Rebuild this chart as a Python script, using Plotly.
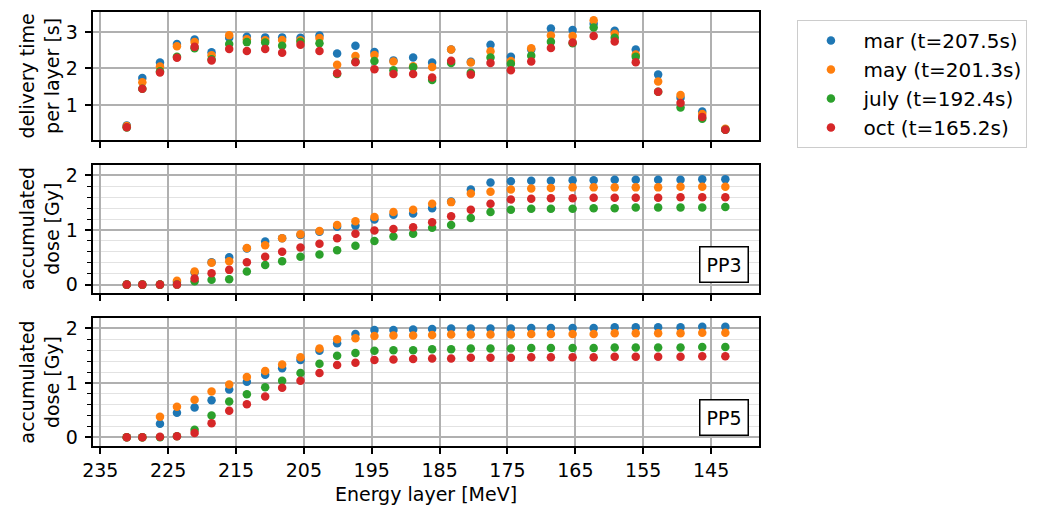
import plotly.graph_objects as go

energy = [231.1, 228.8, 226.2, 223.7, 221.1, 218.6, 216.0, 213.4, 210.7, 208.2, 205.5,
          202.7, 200.1, 197.4, 194.6, 191.8, 188.9, 186.1, 183.3, 180.4, 177.5, 174.5,
          171.5, 168.6, 165.4, 162.3, 159.2, 156.1, 152.8, 149.5, 146.3, 142.9]

series_names = ["mar (t=207.5s)", "may (t=201.3s)", "july (t=192.4s)", "oct (t=165.2s)"]
series_colors = ["#1f77b4", "#ff7f0e", "#2ca02c", "#d62728"]

time_mar = [0.44, 1.74, 2.16, 2.67, 2.79, 2.44, 2.84, 2.87, 2.85, 2.85, 2.84, 2.90, 2.41, 2.62, 2.45, 2.22,
            2.30, 2.16, 2.52, 2.18, 2.65, 2.32, 2.52, 3.09, 3.05, 3.22, 3.03, 2.52, 1.83, 1.20, 0.82, 0.33]
time_may = [0.42, 1.62, 2.05, 2.61, 2.72, 2.36, 2.91, 2.80, 2.77, 2.78, 2.77, 2.83, 2.10, 2.34, 2.37, 2.19,
            2.06, 2.04, 2.52, 2.16, 2.47, 2.20, 2.55, 2.90, 2.89, 3.32, 2.95, 2.38, 1.64, 1.27, 0.75, 0.35]
time_july = [0.38, 1.44, 1.92, 2.32, 2.55, 2.25, 2.67, 2.72, 2.71, 2.62, 2.73, 2.69, 1.85, 2.18, 2.20, 1.95,
             2.03, 1.68, 2.15, 1.88, 2.30, 2.13, 2.35, 2.73, 2.69, 3.12, 2.84, 2.32, 1.36, 0.93, 0.62, 0.32]
time_oct = [0.39, 1.44, 1.89, 2.29, 2.59, 2.22, 2.53, 2.48, 2.53, 2.43, 2.65, 2.48, 1.87, 2.17, 1.98, 1.85,
            1.85, 1.75, 2.21, 1.83, 2.15, 1.95, 2.19, 2.56, 2.71, 2.89, 2.74, 2.17, 1.36, 1.05, 0.67, 0.32]

pp3_mar = [0, 0, 0, 0.05, 0.22, 0.41, 0.50, 0.66, 0.79, 0.85, 0.91, 0.97, 1.06, 1.08, 1.19, 1.28,
           1.30, 1.40, 1.52, 1.74, 1.87, 1.89, 1.90, 1.90, 1.91, 1.91, 1.92, 1.92, 1.92, 1.92, 1.93, 1.93]
pp3_may = [0, 0, 0, 0.07, 0.24, 0.40, 0.43, 0.67, 0.72, 0.85, 0.92, 0.98, 1.09, 1.16, 1.24, 1.33,
           1.37, 1.48, 1.51, 1.67, 1.70, 1.74, 1.76, 1.77, 1.78, 1.78, 1.78, 1.78, 1.78, 1.79, 1.79, 1.79]
pp3_july = [0, 0, 0, 0, 0.06, 0.09, 0.10, 0.24, 0.36, 0.43, 0.51, 0.55, 0.63, 0.71, 0.80, 0.88,
            0.93, 1.04, 1.09, 1.22, 1.33, 1.37, 1.39, 1.39, 1.39, 1.40, 1.40, 1.41, 1.41, 1.41, 1.41, 1.42]
pp3_oct = [0, 0, 0, 0, 0.11, 0.21, 0.27, 0.41, 0.51, 0.60, 0.68, 0.75, 0.85, 0.93, 0.99, 1.02,
           1.05, 1.14, 1.25, 1.37, 1.48, 1.56, 1.57, 1.58, 1.58, 1.59, 1.59, 1.59, 1.59, 1.60, 1.60, 1.60]

pp5_mar = [0, 0, 0.25, 0.45, 0.55, 0.68, 0.88, 1.02, 1.15, 1.27, 1.42, 1.59, 1.73, 1.90, 1.97, 1.97,
           1.98, 1.99, 2.00, 2.00, 2.00, 2.00, 2.01, 2.01, 2.01, 2.01, 2.02, 2.02, 2.02, 2.02, 2.03, 2.03]
pp5_may = [0, 0, 0.38, 0.56, 0.69, 0.84, 0.97, 1.11, 1.22, 1.34, 1.47, 1.63, 1.80, 1.82, 1.86, 1.87,
           1.87, 1.88, 1.89, 1.89, 1.89, 1.89, 1.90, 1.90, 1.90, 1.90, 1.91, 1.91, 1.91, 1.91, 1.92, 1.92]
pp5_july = [0, 0, 0, 0.02, 0.14, 0.40, 0.66, 0.79, 0.92, 1.04, 1.18, 1.35, 1.50, 1.55, 1.59, 1.60,
            1.60, 1.62, 1.62, 1.63, 1.63, 1.63, 1.64, 1.64, 1.64, 1.64, 1.65, 1.65, 1.65, 1.65, 1.66, 1.66]
pp5_oct = [0, 0, 0.01, 0.02, 0.08, 0.26, 0.49, 0.61, 0.75, 0.91, 1.04, 1.18, 1.33, 1.37, 1.42, 1.43,
           1.44, 1.45, 1.45, 1.46, 1.46, 1.46, 1.47, 1.47, 1.47, 1.47, 1.48, 1.48, 1.48, 1.48, 1.49, 1.49]

x_ticks = [235, 225, 215, 205, 195, 185, 175, 165, 155, 145]
panel_labels = ["PP3", "PP5"]

time_series = [time_mar, time_may, time_july, time_oct]
pp3_series = [pp3_mar, pp3_may, pp3_july, pp3_oct]
pp5_series = [pp5_mar, pp5_may, pp5_july, pp5_oct]

FONT = "DejaVu Sans"
fig = go.Figure()

panels = [("x", "y", time_series, True), ("x2", "y2", pp3_series, False), ("x3", "y3", pp5_series, False)]
for xa, ya, data, show in panels:
    for name, color, vals in zip(series_names, series_colors, data):
        fig.add_trace(go.Scatter(
            x=energy, y=vals, mode="markers", name=name, xaxis=xa, yaxis=ya,
            marker=dict(color=color, size=8.5, line=dict(width=0)),
            showlegend=show, legendgroup=name,
        ))

W, H = 1037, 512
left, right, top, bottom = 92.7, 763.3, 10.0, 445.7
ph = bottom - top


def dom(y0, y1):
    return [(bottom - y1) / ph, (bottom - y0) / ph]


xcommon = dict(
    range=[236.07, 137.94], autorange=False, tickmode="array", tickvals=x_ticks,
    showgrid=True, gridcolor="#b0b0b0", gridwidth=1.5,
    showline=True, mirror=True, linecolor="black", linewidth=1.5,
    ticks="outside", ticklen=6.6, tickwidth=1.5, tickcolor="black",
    tickfont=dict(family=FONT, size=19, color="black"), zeroline=False,
    domain=[0, 1],
)
ycommon = dict(
    showgrid=True, gridcolor="#b0b0b0", gridwidth=1.5,
    showline=True, mirror=True, linecolor="black", linewidth=1.5,
    ticks="outside", ticklen=6.6, tickwidth=1.5, tickcolor="black",
    tickfont=dict(family=FONT, size=19, color="black"), zeroline=False,
    ticklabelstandoff=3,
)
minor = dict(dtick=0.2, showgrid=True, gridcolor="#e2e2e2", gridwidth=1.3,
             ticks="outside", ticklen=3.8, tickwidth=1.1, tickcolor="black")

ytitle_font = dict(family=FONT, size=19)

fig.update_layout(
    width=W, height=H,
    margin=dict(l=left, r=W - right, t=top, b=H - bottom),
    paper_bgcolor="white", plot_bgcolor="white",
    font=dict(family=FONT, size=19, color="black"),
    xaxis=dict(**xcommon, anchor="y", showticklabels=False),
    xaxis2=dict(**xcommon, anchor="y2", showticklabels=False, matches="x"),
    xaxis3=dict(**xcommon, anchor="y3", showticklabels=True, matches="x",
                title=dict(text="Energy layer [MeV]", font=dict(family=FONT, size=19), standoff=8)),
    yaxis=dict(**ycommon, domain=dom(10.0, 138.3), range=[0.045, 3.545], tickvals=[1, 2, 3],
               title=dict(text="delivery time<br>per layer [s]", font=ytitle_font, standoff=1)),
    yaxis2=dict(**ycommon, domain=dom(163.3, 291.7), range=[-0.146, 2.195], tickvals=[0, 1, 2], minor=minor,
                title=dict(text="accumulated<br>dose [Gy]", font=ytitle_font, standoff=1)),
    yaxis3=dict(**ycommon, domain=dom(317.3, 445.7), range=[-0.159, 2.19], tickvals=[0, 1, 2], minor=minor,
                title=dict(text="accumulated<br>dose [Gy]", font=ytitle_font, standoff=1)),
    legend=dict(
        x=(802.0 - left) / (right - left), y=1 - (18.0 - top) / ph, xanchor="left", yanchor="top",
        bordercolor="#cccccc", borderwidth=1, bgcolor="white",
        font=dict(family=FONT, size=20, color="black"),
        itemwidth=55, tracegroupgap=3, traceorder="normal",
    ),
    showlegend=True,
)

for label, ya, ybot in zip(panel_labels, ["y2", "y3"], [(291.7 - 282.3) / 128.4, (445.7 - 436.0) / 128.4]):
    xa = "x2" if ya == "y2" else "x3"
    fig.add_annotation(
        text=label, xref=f"{xa} domain", yref=f"{ya} domain",
        x=(753.3 - left) / (right - left), y=ybot, xanchor="right", yanchor="bottom",
        showarrow=False, bordercolor="black", borderwidth=1.5, borderpad=6, bgcolor="white",
        font=dict(family=FONT, size=19, color="black"),
    )

fig.write_html("out.html")
